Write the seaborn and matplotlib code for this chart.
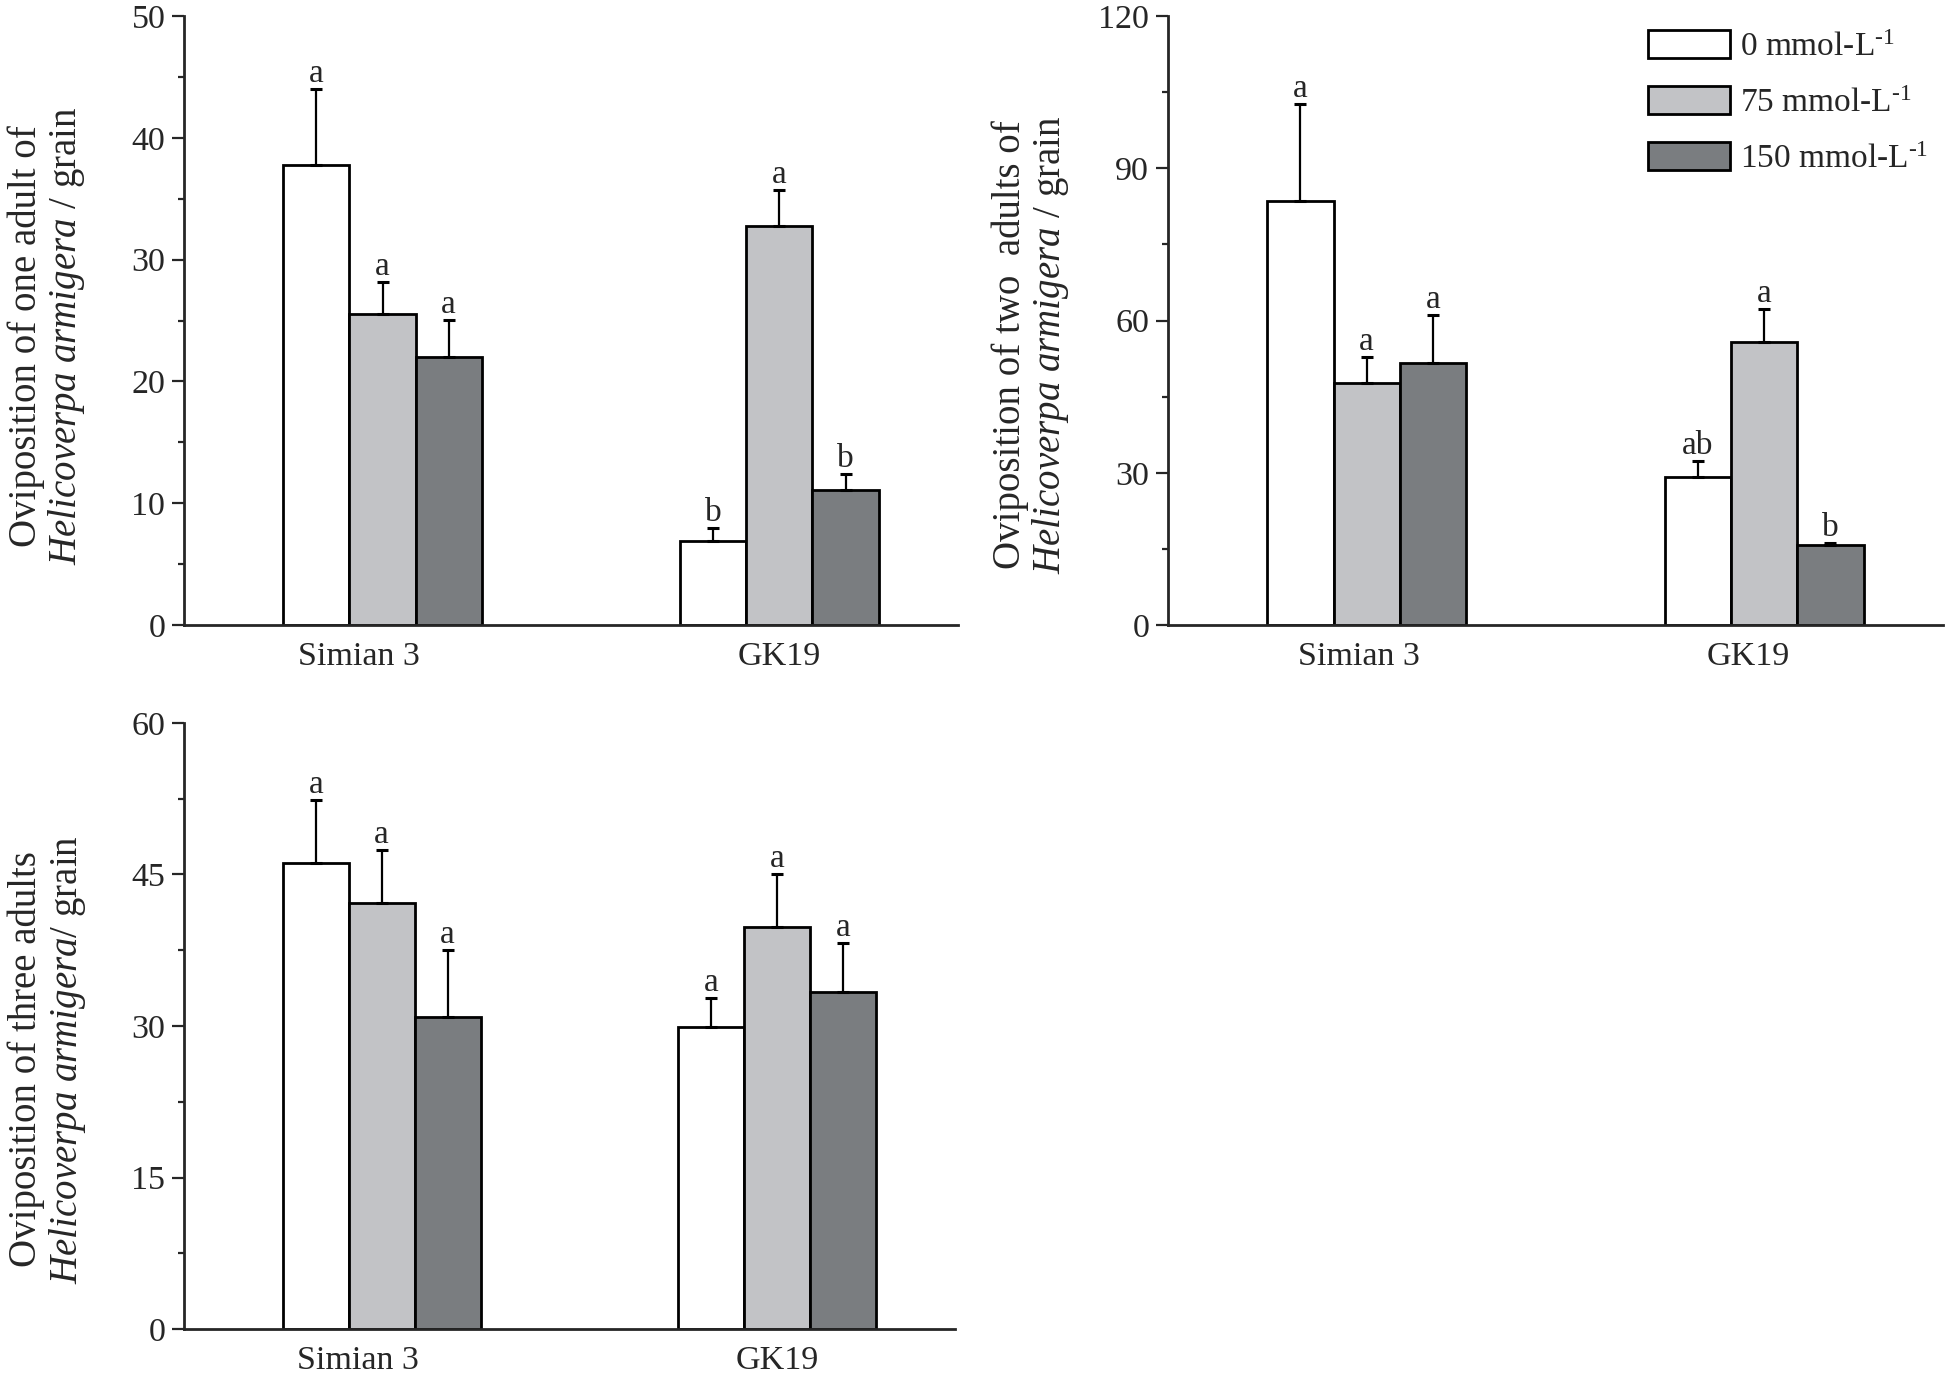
import matplotlib
matplotlib.use("Agg")
import matplotlib.pyplot as plt
from matplotlib.container import BarContainer
import seaborn as sns
import pandas as pd
import numpy as np

# ---------------- data ----------------
cultivars = ["Simian 3", "GK19"]
concentrations = ["0 mmol-L$^{\\text{-}1}$", "75 mmol-L$^{\\text{-}1}$", "150 mmol-L$^{\\text{-}1}$"]

# panel A: one adult
one_means = {"Simian 3": [37.8, 25.5, 22.0], "GK19": [6.9, 32.8, 11.1]}
one_err = {"Simian 3": [6.2, 2.7, 3.05], "GK19": [1.1, 2.95, 1.3]}
one_letters = {"Simian 3": ["a", "a", "a"], "GK19": ["b", "a", "b"]}

# panel B: two adults
two_means = {"Simian 3": [83.6, 47.7, 51.6], "GK19": [29.1, 55.8, 15.7]}
two_err = {"Simian 3": [19.0, 5.2, 9.4], "GK19": [3.3, 6.5, 0.4]}
two_letters = {"Simian 3": ["a", "a", "a"], "GK19": ["ab", "a", "b"]}

# panel C: three adults
three_means = {"Simian 3": [46.1, 42.2, 30.9], "GK19": [29.9, 39.8, 33.4]}
three_err = {"Simian 3": [6.3, 5.2, 6.6], "GK19": [2.9, 5.2, 4.8]}
three_letters = {"Simian 3": ["a", "a", "a"], "GK19": ["a", "a", "a"]}

colors = ["#ffffff", "#c2c3c6", "#7a7d80"]

ylabel_one = "Oviposition of one adult of\n$\\mathit{Helicoverpa}$ $\\mathit{armigera}$ / grain"
ylabel_two = "Oviposition of two  adults of\n$\\mathit{Helicoverpa}$ $\\mathit{armigera}$ / grain"
ylabel_three = "Oviposition of three adults\n$\\mathit{Helicoverpa}$ $\\mathit{armigera}$/ grain"

# ---------------- style ----------------
sns.set_style("ticks")
plt.rcParams["font.family"] = ["Liberation Serif", "DejaVu Serif"]
plt.rcParams["mathtext.fontset"] = "custom"
plt.rcParams["mathtext.rm"] = "Liberation Serif"
plt.rcParams["mathtext.it"] = "Liberation Serif:italic"
plt.rcParams["mathtext.bf"] = "Liberation Serif:bold"

TICK_FS = 24.5
LABEL_FS = 28
LETTER_FS = 24


def make_df(means):
    rows = []
    for c in cultivars:
        for k, conc in enumerate(concentrations):
            rows.append({"cultivar": c, "conc": conc, "value": means[c][k]})
    return pd.DataFrame(rows)


def draw(ax, means, errs, letters, ylim, yticks, ylabel, xtick_pos, label_y=0.5):
    df = make_df(means)
    sns.barplot(data=df, x="cultivar", y="value", hue="conc", order=cultivars,
                hue_order=concentrations, palette=colors, edgecolor="black",
                linewidth=2.0, width=0.5, errorbar=None, legend=False,
                saturation=1, ax=ax)
    bar_conts = [c for c in ax.containers if isinstance(c, BarContainer)]
    for k, cont in enumerate(bar_conts):
        for j, bar in enumerate(cont.patches):
            c = cultivars[j]
            x = bar.get_x() + bar.get_width() / 2
            h = bar.get_height()
            e = errs[c][k]
            ax.errorbar([x], [h], yerr=[[0], [e]], fmt="none", ecolor="black",
                        elinewidth=1.6, capsize=4, capthick=2.2, zorder=3)
            ax.annotate(letters[c][k], (x, h + e), xytext=(0, 0),
                        textcoords="offset points", ha="center", va="bottom",
                        fontsize=LETTER_FS)
    ax.set_xlim(-0.5, 1.45)
    ax.set_ylim(*ylim)
    ax.set_yticks(yticks)
    minor = [(a + b) / 2 for a, b in zip(yticks[:-1], yticks[1:])]
    ax.set_yticks(minor, minor=True)
    ax.set_xticks(xtick_pos)
    ax.set_xticklabels(cultivars)
    ax.tick_params(axis="x", length=0, pad=12, labelsize=TICK_FS)
    ax.tick_params(axis="y", which="major", length=8.5, width=1.6, pad=5,
                   labelsize=TICK_FS, direction="out")
    ax.tick_params(axis="y", which="minor", length=4.5, width=1.6, direction="out")
    for s in ["top", "right"]:
        ax.spines[s].set_visible(False)
    for s in ["left", "bottom"]:
        ax.spines[s].set_linewidth(2.0)
    ax.set_xlabel("")
    ax.set_ylabel(ylabel, fontsize=LABEL_FS, linespacing=1.05)
    ax.yaxis.set_label_coords(-0.125, label_y)
    return bar_conts


fig = plt.figure(figsize=(19.46, 13.85), dpi=100)
ax1 = fig.add_axes([0.0946, 0.5487, 0.3977, 0.4397])
ax2 = fig.add_axes([0.6002, 0.5487, 0.3983, 0.4397])
ax3 = fig.add_axes([0.0946, 0.0404, 0.3961, 0.4376])

draw(ax1, one_means, one_err, one_letters, (0, 50), [0, 10, 20, 30, 40, 50],
     ylabel_one, [-0.06, 1.0], label_y=0.475)
conts2 = draw(ax2, two_means, two_err, two_letters, (0, 120), [0, 30, 60, 90, 120],
              ylabel_two, [-0.02, 0.96], label_y=0.46)
draw(ax3, three_means, three_err, three_letters, (0, 60), [0, 15, 30, 45, 60],
     ylabel_three, [-0.06, 1.0], label_y=0.445)

handles = [cont.patches[0] for cont in conts2]
fig.legend(handles, concentrations, loc="upper left",
           bbox_to_anchor=(1648 / 1946, 1 - 30 / 1385), frameon=False,
           fontsize=24, handlelength=2.45, handleheight=0.93, handletextpad=0.3,
           labelspacing=0.7, borderpad=0, borderaxespad=0)

fig.savefig("out.png", dpi=100, facecolor="white")
